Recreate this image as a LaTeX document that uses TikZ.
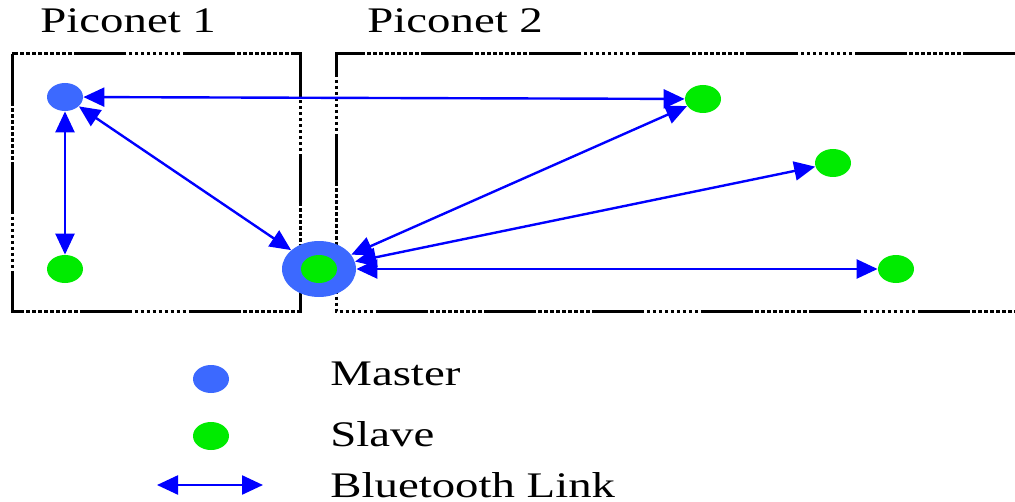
\documentclass[tikz,border=0pt]{standalone}
\usepackage{fontspec}
\setmainfont{Liberation Serif}[FakeStretch=1.3]
\usetikzlibrary{shapes.geometric,arrows.meta}

\definecolor{masterblue}{RGB}{60,105,255}
\definecolor{slavegreen}{RGB}{0,235,0}
\definecolor{linkblue}{RGB}{0,0,255}

\tikzset{
  master/.style={ellipse,fill=masterblue,minimum width=18pt,minimum height=14pt,inner sep=0pt},
  slave/.style={ellipse,fill=slavegreen,minimum width=18pt,minimum height=14pt,inner sep=0pt},
  bridge/.style={ellipse,fill=masterblue,minimum width=37pt,minimum height=28pt,inner sep=0pt},
  link/.style={draw=linkblue,line width=1.2pt,{Triangle[length=10.5pt,width=9.5pt]}-{Triangle[length=10.5pt,width=9.5pt]}},
  border/.style={draw,line width=1.5pt,dash pattern=on 26pt off 1.2pt on 1.8pt off 1.2pt on 1.8pt off 1.2pt on 1.8pt off 1.2pt on 1.8pt off 1.2pt on 1.8pt off 1.2pt on 1.8pt off 1.2pt on 1.8pt off 1.2pt on 1.8pt off 1.2pt on 1.8pt off 1.2pt},
  label/.style={anchor=base west,inner sep=0pt,font=\fontsize{18}{21}\selectfont}
}

\begin{document}
\begin{tikzpicture}[x=0.5pt,y=-0.5pt]
        \useasboundingbox (0,0) rectangle (1015,502);

        % Piconet borders.
        \draw [border] (12,54) rectangle (300,311);
        \draw [border] (1015,54) -- (336,54) -- (336,311) -- (1015,311);

        \node [label] (pn1) at (40,33) {Piconet 1};
        \node [label] (pn2) at (367,33) {Piconet 2};

        % Devices.
        \node [master] (m1) at (65,97) {};
        \node [slave] (s1) at (65,269) {};
        \node [bridge] (br) at (319,269) {};
        \node [slave] (brin) at (319,269) {};
        \node [slave] (s2) at (703,99) {};
        \node [slave] (s3) at (833,163) {};
        \node [slave] (s4) at (896,269) {};

        % Links.
        \draw [link] (m1) -- (s1);
        \draw [link] (m1) -- (s2);
        \draw [link] (m1) -- (br);
        \draw [link] (br) -- (s2);
        \draw [link] (br) -- (s3);
        \draw [link] (br) -- (s4);

        % Legend.
        \node [master] (lgm) at (211,379) {};
        \node [slave] (lgs) at (211,436) {};
        \coordinate (lga) at (157,485);
        \coordinate (lgb) at (263,485);
        \draw [link] (lga) -- (lgb);
        \node [label] (txm) at (330,385) {Master};
        \node [label] (txs) at (330,446) {Slave};
        \node [label] (txl) at (330,497) {Bluetooth Link};
\end{tikzpicture}
\end{document}
